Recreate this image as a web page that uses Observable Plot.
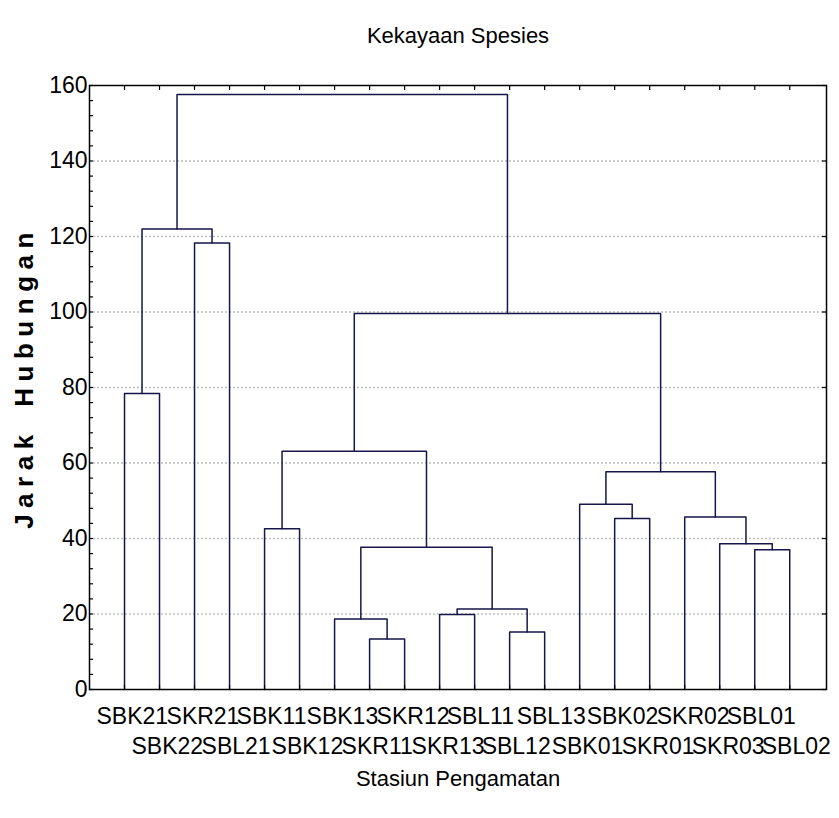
<!DOCTYPE html>
<html><head><meta charset="utf-8">
<script src="https://cdn.jsdelivr.net/npm/d3@7"></script>
<script src="https://cdn.jsdelivr.net/npm/@observablehq/plot@0.6"></script>
<style>body{margin:0;background:#fff;} svg{display:block}</style>
</head><body><div id="chart"></div>
<script>
// Leaves in dendrogram order
const leaves = ["SBK21","SBK22","SKR21","SBL21","SBK11","SBK12","SBK13","SKR11","SKR12","SKR13",
                "SBL11","SBL12","SBL13","SBK01","SBK02","SKR01","SKR02","SKR03","SBL01","SBL02"];
// Merges: "#k" refers to merge k
const mergeLeft  = ["SBK21","SKR21","#0","SBK11","SKR11","SBK13","SKR13","SBL12","#6","#5","#3",
                    "SBK02","SBK01","SBL01","SKR03","SKR02","#12","#10","#2"];
const mergeRight = ["SBK22","SBL21","#1","SBK12","SKR12","#4","SBL11","SBL13","#7","#8","#9",
                    "SKR01","#11","SBL02","#13","#14","#15","#16","#17"];
const mergeHeight = [78.4,118.3,122.0,42.6,13.4,18.7,19.9,15.2,21.3,37.7,63.1,
                     45.3,49.1,37.0,38.6,45.7,57.7,99.6,157.6];
const yTicks = [0,20,40,60,80,100,120,140,160];
const yMinor = d3.range(0,161,4);
const gridValues = [20,40,60,80,100,120,140];
const title = "Kekayaan Spesies";
const xTitle = "Stasiun Pengamatan";
const yTitle = "Jarak Hubungan";

// layout
const nodes = [];
const getNode = id => id.startsWith("#") ? nodes[+id.slice(1)] : {x: leaves.indexOf(id), y: 0};
const segs = [];
mergeHeight.forEach((h, k) => {
  const l = getNode(mergeLeft[k]), r = getNode(mergeRight[k]);
  nodes[k] = {x: (l.x + r.x) / 2, y: h};
  segs.push({k, x: l.x, y: l.y}, {k, x: l.x, y: h}, {k, x: r.x, y: h}, {k, x: r.x, y: r.y});
});

const W = 839, H = 818, mL = 89, mR = 13, mT = 85, mB = 129;
const fW = W - mL - mR, fH = H - mT - mB;
const font = "'Liberation Sans', Arial, sans-serif";

const plot = Plot.plot({
  width: W, height: H,
  marginLeft: mL, marginRight: mR, marginTop: mT, marginBottom: mB,
  x: {domain: [-1, 20.05], axis: null},
  y: {domain: [0, 160], axis: null},
  style: {fontFamily: font, fontSize: "23px", color: "#000", background: "#fff"},
  marks: [
    Plot.ruleY(gridValues, {stroke: "#bdbdbd", strokeDasharray: "2,2", strokeWidth: 1.3}),
    Plot.line(segs, {x: "x", y: "y", z: "k", stroke: "#16164a", strokeWidth: 1.5}),
    Plot.frame({stroke: "#000", strokeWidth: 1.5}),
    // inward ticks
    Plot.ruleY(yMinor, {insetRight: fW - 4, stroke: "#000", strokeWidth: 1.2}),
    Plot.ruleY(yTicks, {insetLeft: fW - 4, stroke: "#000", strokeWidth: 1.2}),
    Plot.ruleX(leaves, {x: (d, i) => i, insetBottom: fH - 5, stroke: "#000", strokeWidth: 1.2}),
    Plot.ruleX(leaves, {x: (d, i) => i, insetTop: fH - 4, stroke: "#000", strokeWidth: 1.2}),
    Plot.axisY({ticks: yTicks, tickSize: 0, tickPadding: 2, fontSize: 23, label: null}),
    Plot.text(leaves.filter((d, i) => i % 2 === 0), {x: d => leaves.indexOf(d), frameAnchor: "bottom", lineAnchor: "middle", dy: 27, dx: -28, textAnchor: "start", fontSize: 23}),
    Plot.text(leaves.filter((d, i) => i % 2 === 1), {x: d => leaves.indexOf(d), frameAnchor: "bottom", lineAnchor: "middle", dy: 57, dx: -28, textAnchor: "start", fontSize: 23}),
    Plot.text([title], {frameAnchor: "top", lineAnchor: "middle", dy: -50, fontSize: 22}),
    Plot.text([xTitle], {frameAnchor: "bottom", lineAnchor: "middle", dy: 89, fontSize: 22}),
    Plot.text([yTitle], {frameAnchor: "left", lineAnchor: "middle", textAnchor: "middle", dx: -65, dy: -10, rotate: -90, fontSize: 26, fontWeight: "bold"})
  ]
});
d3.select(plot).selectAll("text").filter(function() { return this.textContent === yTitle; })
  .style("letter-spacing", "6.5px").style("word-spacing", "8px");
document.getElementById("chart").appendChild(plot);
</script>
</body></html>
